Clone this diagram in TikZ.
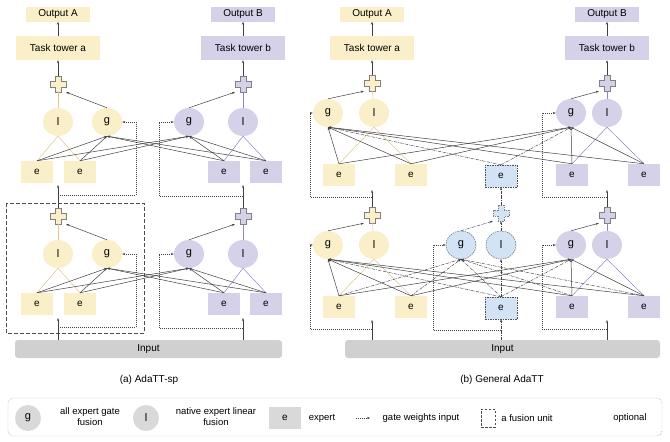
\documentclass[tikz,border=0pt]{standalone}
\usepackage{fontspec}
\setmainfont{Liberation Sans}
\usetikzlibrary{shapes.geometric,arrows.meta}
\definecolor{yel}{HTML}{FBEFC9}
\definecolor{pur}{HTML}{D5D1E8}
\definecolor{blu}{HTML}{D3E3F6}
\definecolor{gry}{HTML}{D0D0D0}
\definecolor{lyl}{HTML}{E3C58F}
\definecolor{lpu}{HTML}{9A7FC4}
\tikzset{
 box/.style={draw=none,inner sep=0pt,minimum width=32pt,minimum height=22pt,font=\fontsize{10}{11}\selectfont},
 circ/.style={ellipse,draw=none,inner sep=0pt,minimum width=30pt,minimum height=28pt,font=\fontsize{11}{12}\selectfont},
 bdash/.style={draw=black!70,dash pattern=on 1.5pt off 1pt,thin},
 tip/.style={-{Stealth[length=3pt,width=2.2pt]}},
 arr/.style={tip,draw=black!75,line width=0.5pt},
 ylin/.style={draw=lyl,line width=0.5pt},
 plin/.style={draw=lpu,line width=0.5pt},
 dda/.style={tip,draw=black!75,line width=0.45pt,dash pattern=on 3pt off 1pt on 0.6pt off 1pt},
 dot/.style={tip,draw=black!75,line width=0.5pt,dash pattern=on 1pt off 1pt},
 pl/.style={minimum size=16pt,inner sep=0pt,draw=none},
 lgt/.style={font=\fontsize{9.5}{11}\selectfont,align=center,inner sep=0pt},
}
\newcommand\crossat[3]{% name, colour, dashed?
 \path[fill=#2,draw=black!50,line width=0.4pt,#3] ([shift={(-3,-8)}]#1.center) -- ++(6,0) -- ++(0,5) -- ++(5,0) -- ++(0,6) -- ++(-5,0) -- ++(0,5) -- ++(-6,0) -- ++(0,-5) -- ++(-5,0) -- ++(0,-6) -- ++(5,0) -- cycle;}
% panel (a) level: prefix, Y
\newcommand\levA[2]{%
 \node[pl] (#1pa) at (58,#2-38) {}; \crossat{#1pa}{yel}{}
 \node[pl] (#1pb) at (243,#2-38) {}; \crossat{#1pb}{pur}{}
 \node[circ,fill=yel] (#1la) at (58,#2) {l};
 \node[circ,fill=yel] (#1ga) at (107,#2) {g};
 \node[circ,fill=pur] (#1gb) at (189,#2) {g};
 \node[circ,fill=pur] (#1lb) at (243,#2) {l};
 \node[box,fill=yel] (#1e1) at (37,#2+50) {e};
 \node[box,fill=yel] (#1e2) at (80,#2+50) {e};
 \node[box,fill=pur] (#1e3) at (224,#2+50) {e};
 \node[box,fill=pur] (#1e4) at (266,#2+50) {e};
 \draw[ylin] (#1e1.north) -- (#1la.south); \draw[ylin] (#1e2.north) -- (#1la.south);
 \draw[plin] (#1e3.north) -- (#1lb.south); \draw[plin] (#1e4.north) -- (#1lb.south);
 \foreach \e in {e1,e2,e3,e4}{\draw[arr] (#1\e.north) -- (#1ga.south); \draw[arr] (#1\e.north) -- (#1gb.south);}
 \draw[ylin] (#1la) -- (#1pa); \draw[plin] (#1lb) -- (#1pb);
 \draw[arr] (#1ga.north) -- (#1pa.south east); \draw[arr] (#1gb.north) -- (#1pb.south west);
 \coordinate (#1qa) at (58,#2+73); \coordinate (#1qb) at (243,#2+74);
 \draw[dot] (#1qa) -- (136,#2+73) -- (136,#2) -- (#1ga.east);
 \draw[dot] (#1qb) -- (159,#2+74) -- (159,#2) -- (#1gb.west);
}
% panel (b) level: prefix, Y
\newcommand\levB[2]{%
 \node[pl] (#1pa) at (372,#2-30) {}; \crossat{#1pa}{yel}{}
 \node[pl] (#1pb) at (607,#2-30) {}; \crossat{#1pb}{pur}{}
 \node[circ,fill=yel] (#1ga) at (328,#2) {g};
 \node[circ,fill=yel] (#1la) at (374,#2) {l};
 \node[circ,fill=pur] (#1gb) at (571,#2) {g};
 \node[circ,fill=pur] (#1lb) at (607,#2) {l};
 \node[box,fill=yel] (#1e1) at (339,#2+62) {e};
 \node[box,fill=yel] (#1e2) at (411,#2+62) {e};
 \node[box,fill=blu,bdash] (#1ec) at (501,#2+63) {e};
 \node[box,fill=pur] (#1e3) at (572,#2+62) {e};
 \node[box,fill=pur] (#1e4) at (644,#2+62) {e};
 \draw[ylin] (#1e1.north) -- (#1la.south); \draw[ylin] (#1e2.north) -- (#1la.south);
 \draw[plin] (#1e3.north) -- (#1lb.south); \draw[plin] (#1e4.north) -- (#1lb.south);
 \foreach \e in {e1,e2,e3,e4}{\draw[arr] (#1\e.north) -- (#1ga.south); \draw[arr] (#1\e.north) -- (#1gb.south);}
 \draw[dda] (#1ec.north) -- (#1ga.south); \draw[dda] (#1ec.north) -- (#1gb.south);
 \draw[ylin] (#1la) -- (#1pa); \draw[plin] (#1lb) -- (#1pb);
 \draw[arr] (#1ga.north) -- (#1pa.south west); \draw[arr] (#1gb.north) -- (#1pb.south west);
 \coordinate (#1qa) at (372,#2+84); \coordinate (#1qb) at (607,#2+84);
 \draw[dot] (#1qa) -- (310,#2+84) -- (310,#2) -- (#1ga.west);
 \draw[dot] (#1qb) -- (542,#2+84) -- (542,#2) -- (#1gb.west);
}
\begin{document}
\begin{tikzpicture}[x=1pt,y=-1pt]
\useasboundingbox (0,0) rectangle (670,442);
\fill[white] (0,0) rectangle (670,442);
%%%%% panel (a)
\node[box,fill=yel,minimum width=64pt,minimum height=15pt] (aoa) at (58,14) {Output A};
\node[box,fill=pur,minimum width=64pt,minimum height=15pt] (aob) at (243,14) {Output B};
\node[box,fill=yel,minimum width=84pt,minimum height=24pt] (ata) at (58,48) {Task tower a};
\node[box,fill=pur,minimum width=84pt,minimum height=24pt] (atb) at (243,48) {Task tower b};
\levA{au}{122}
\levA{al}{254}
\draw[arr] (ata) -- (aoa); \draw[arr] (atb) -- (aob);
\draw[arr] (aupa) -- (ata); \draw[arr] (aupb) -- (atb);
\coordinate (aua) at (58,185); \coordinate (aub) at (243,185);
\draw[arr] (alpa) -- (aua); \draw[arr] (alpb) -- (aub);
\draw[black!70,dash pattern=on 4pt off 2pt,line width=0.6pt] (6,203) rectangle (144,333);
\node[draw=none,fill=gry,rounded corners=3pt,minimum width=267pt,minimum height=18pt,inner sep=0pt,font=\fontsize{10}{11}\selectfont] (ain) at (148.5,349) {Input};
\coordinate (aia) at (58,318); \coordinate (aib) at (243,318);
\draw[arr] (ain.north -| aia) -- (aia); \draw[arr] (ain.north -| aib) -- (aib);
\node[font=\fontsize{10}{11}\selectfont] (capa) at (149,380) {(a) AdaTT-sp};
%%%%% panel (b)
\node[box,fill=yel,minimum width=64pt,minimum height=15pt] (boa) at (372,14) {Output A};
\node[box,fill=pur,minimum width=64pt,minimum height=15pt] (bob) at (607,14) {Output B};
\node[box,fill=yel,minimum width=84pt,minimum height=24pt] (bta) at (372,48) {Task tower a};
\node[box,fill=pur,minimum width=84pt,minimum height=24pt] (btb) at (607,48) {Task tower b};
\levB{bu}{113}
\levB{bl}{245}
\node[pl] (blpc) at (501,213) {}; \crossat{blpc}{blu}{dash pattern=on 1.5pt off 1pt}
\node[circ,fill=blu,bdash] (blgc) at (461,245) {g};
\node[circ,fill=blu,bdash] (bllc) at (501,245) {l};
\foreach \e in {e1,e2,ec,e3,e4}{\draw[dda] (bl\e.north) -- (blgc.south);}
\draw[dda] (blec.north) -- (bllc.south);
\draw[dda] (bllc) -- (blpc); \draw[dda] (blgc.north) -- (blpc.south west);
\draw[dda] (blpc) -- (buec.south);
\draw[dot] (501,330) -- (433,330) -- (433,245) -- (blgc.west);
\draw[arr] (bta) -- (boa); \draw[arr] (btb) -- (bob);
\draw[arr] (bupa) -- (bta); \draw[arr] (bupb) -- (btb);
\coordinate (bua) at (372,190); \coordinate (bub) at (607,190);
\draw[arr] (blpa) -- (bua); \draw[arr] (blpb) -- (bub);
\node[draw=none,fill=gry,rounded corners=3pt,minimum width=315pt,minimum height=18pt,inner sep=0pt,font=\fontsize{10}{11}\selectfont] (bin) at (502.5,349) {Input};
\coordinate (bia) at (372,320); \coordinate (bib) at (607,320);
\draw[arr] (bin.north -| bia) -- (bia); \draw[arr] (bin.north -| bib) -- (bib);
\draw[dda] (bin.north -| blec) -- (blec.south);
\node[font=\fontsize{10}{11}\selectfont] (capb) at (502,380) {(b) General AdaTT};
%%%%% legend
\draw[black!35,dash pattern=on 0.8pt off 0.8pt,rounded corners=5pt] (8,398) rectangle (662,436);
\node[circ,fill=gry!80,minimum width=26pt,minimum height=26pt] (lg) at (28,418) {g};
\node[lgt] (lgt) at (90,417) {all expert gate\\fusion};
\node[circ,fill=gry!80,minimum width=26pt,minimum height=26pt] (ll) at (146,418) {l};
\node[lgt] (llt) at (216,417) {native expert linear\\fusion};
\node[box,fill=gry!80] (le) at (285,418) {e};
\node[lgt] (let) at (322,418) {expert};
\coordinate (ld1) at (356,418); \coordinate (ld2) at (370,418);
\draw[dot] (ld1) -- (ld2);
\node[lgt] (ldt) at (421,418) {gate weights input};
\node[draw=black!70,dash pattern=on 2.5pt off 1.5pt,minimum width=14pt,minimum height=18pt,inner sep=0pt] (lf) at (488,418) {};
\node[lgt] (lft) at (527,418) {a fusion unit};
\node[lgt] (lot) at (630,418) {optional};
\end{tikzpicture}
\end{document}
